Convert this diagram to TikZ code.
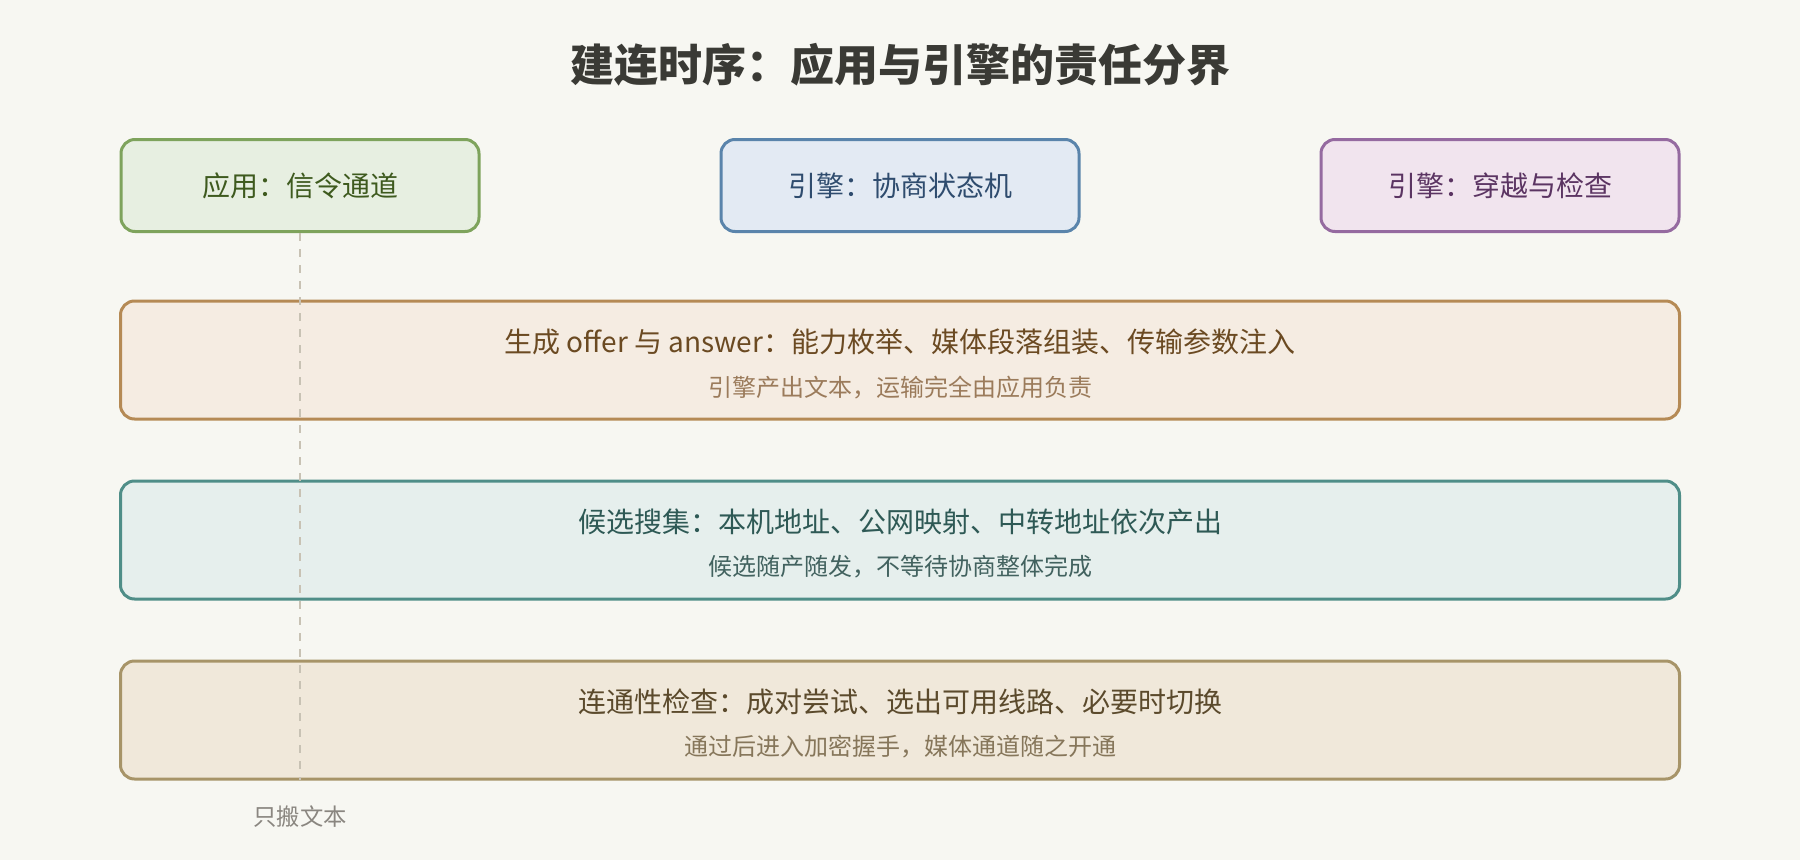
\documentclass[tikz,border=0pt]{standalone}
\usepackage{fontspec}
\setmainfont{Noto Sans CJK SC}
\definecolor{bg}{HTML}{F7F7F2}
\definecolor{titlec}{HTML}{3A3A35}
\definecolor{gfill}{HTML}{E7EFE1}
\definecolor{gdraw}{HTML}{7EA35C}
\definecolor{gtext}{HTML}{3E5A1E}
\definecolor{bfill}{HTML}{E3EAF3}
\definecolor{bdraw}{HTML}{5A84AB}
\definecolor{btext}{HTML}{2F4C6E}
\definecolor{pfill}{HTML}{F1E4EE}
\definecolor{pdraw}{HTML}{956AA0}
\definecolor{ptext}{HTML}{5B3462}
\definecolor{afill}{HTML}{F5ECE2}
\definecolor{adraw}{HTML}{B58A55}
\definecolor{atext}{HTML}{6B4A22}
\definecolor{asub}{HTML}{9B7B5B}
\definecolor{tfill}{HTML}{E6EFED}
\definecolor{tdraw}{HTML}{4F8E88}
\definecolor{ttext}{HTML}{2E5955}
\definecolor{tsub}{HTML}{42625F}
\definecolor{cfill}{HTML}{F0E8DA}
\definecolor{cdraw}{HTML}{A79468}
\definecolor{ctext}{HTML}{5B4A2C}
\definecolor{csub}{HTML}{86765A}
\definecolor{dashc}{HTML}{C8C2B4}
\definecolor{notec}{HTML}{8A8680}
\begin{document}
\begin{tikzpicture}[x=0.75pt,y=-0.75pt,
  boxbase/.style={draw, line width=2.25pt, rounded corners=10.5pt, inner sep=0pt},
  topbox/.style={boxbase, minimum width=268.5pt, minimum height=69pt, font=\fontsize{21}{25}\selectfont},
  widebox/.style={boxbase, minimum width=1169.25pt, minimum height=88.5pt},
  maintext/.style={inner sep=0pt, font=\fontsize{21}{25}\selectfont},
  subtext/.style={inner sep=0pt, font=\fontsize{18}{22}\selectfont},
  guide/.style={draw=dashc, line width=1.9pt, dash pattern=on 6pt off 6pt}]
\fill[bg] (0,0) rectangle (1800,860);
\useasboundingbox (0,0) rectangle (1800,860);

\node[inner sep=0pt, text=titlec, font=\fontsize{33}{40}\selectfont\bfseries] (title) at (900,65) {建连时序：应用与引擎的责任分界};

\node[topbox, fill=gfill, draw=gdraw, text=gtext] (app) at (300,185.5) {应用：信令通道};
\node[topbox, fill=bfill, draw=bdraw, text=btext] (neg) at (900,185.5) {引擎：协商状态机};
\node[topbox, fill=pfill, draw=pdraw, text=ptext] (trav) at (1500,185.5) {引擎：穿越与检查};

\node[widebox, fill=afill, draw=adraw] (boxA) at (900,360) {};
\node[maintext, text=atext] (mainA) at (900,342) {生成 offer 与 answer：能力枚举、媒体段落组装、传输参数注入};
\node[subtext, text=asub] (subA) at (900,388) {引擎产出文本，运输完全由应用负责};

\node[widebox, fill=tfill, draw=tdraw] (boxB) at (900,540) {};
\node[maintext, text=ttext] (mainB) at (900,522) {候选搜集：本机地址、公网映射、中转地址依次产出};
\node[subtext, text=tsub] (subB) at (900,567) {候选随产随发，不等待协商整体完成};

\node[widebox, fill=cfill, draw=cdraw] (boxC) at (900,720) {};
\node[maintext, text=ctext] (mainC) at (900,702) {连通性检查：成对尝试、选出可用线路、必要时切换};
\node[subtext, text=csub] (subC) at (900,747) {通过后进入加密握手，媒体通道随之开通};

\coordinate (guideEnd) at (300,780);
\draw[guide] (app.south) -- (guideEnd);
\node[inner sep=0pt, text=notec, font=\fontsize{17.5}{20}\selectfont] (note) at (300,817) {只搬文本};
\end{tikzpicture}
\end{document}
